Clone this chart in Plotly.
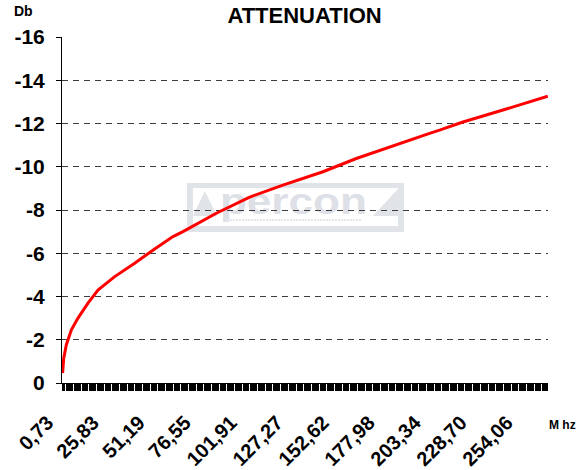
import base64
import plotly.graph_objects as go

# ---- data ----
freq_mhz = [0.73, 1.36, 2.8, 5.58, 9.22, 14.73, 20.24, 29.45, 40.47, 48.75, 51.5,
            61.6, 67.1, 85.5, 103.9, 122.2, 131.3, 144.3, 162.7, 181.1, 203.1,
            208.6, 221.5, 239.9, 258.3, 268.3]
attenuation_db = [-0.46, -1.15, -1.77, -2.46, -3.0, -3.69, -4.3, -4.92, -5.54, -6.05, -6.2,
                  -6.77, -7.0, -7.85, -8.6, -9.15, -9.4, -9.77, -10.38, -10.92, -11.54,
                  -11.69, -12.07, -12.53, -13.0, -13.26]

x_tick_vals = [0.73, 25.83, 51.19, 76.55, 101.91, 127.27, 152.62, 177.98, 203.34, 228.70, 254.06]
x_tick_text = ["0,73", "25,83", "51,19", "76,55", "101,91", "127,27", "152,62",
               "177,98", "203,34", "228,70", "254,06"]
y_tick_vals = [0, -2, -4, -6, -8, -10, -12, -14, -16]
y_tick_text = ["0", "-2", "-4", "-6", "-8", "-10", "-12", "-14", "-16"]

FONT = "Liberation Sans, Arial, sans-serif"

# watermark logo (drawn as inline SVG)
logo_svg = """<svg xmlns='http://www.w3.org/2000/svg' width='217' height='49' viewBox='0 0 217 49'>
<rect x='0' y='0' width='217' height='49' fill='#e0e3e8'/>
<rect x='6' y='5' width='205' height='38' fill='#ffffff'/>
<polygon points='6,33 18,8 30,33' fill='#e0e3e8'/>
<polygon points='186,33 211,6 211,33' fill='#e0e3e8'/>
<text x='33' y='31' font-family='Liberation Sans, Arial' font-weight='bold' font-size='36'
 fill='#dde0e6' textLength='147' lengthAdjust='spacingAndGlyphs'>percon</text>
<line x1='40' y1='37' x2='175' y2='37' stroke='#e3e6ea' stroke-width='2' stroke-dasharray='2,1'/>
</svg>"""
logo_uri = "data:image/svg+xml;base64," + base64.b64encode(logo_svg.encode()).decode()

fig = go.Figure()
fig.add_trace(go.Scatter(
    x=freq_mhz, y=attenuation_db, mode="lines",
    line=dict(color="#ff0000", width=3), hoverinfo="skip", showlegend=False,
))

fig.update_layout(
    width=588, height=470,
    margin=dict(l=62, r=40, t=37, b=87, autoexpand=False),
    paper_bgcolor="white", plot_bgcolor="white",
    font=dict(family=FONT, color="black"),
    title=dict(text="<b>ATTENUATION</b>", x=0.518, xanchor="center", y=0.968, yanchor="middle",
               font=dict(size=22, family=FONT, color="black", weight="bold")),
    images=[dict(source=logo_uri, xref="paper", yref="paper", x=0.257, y=0.578,
                 sizex=0.4465, sizey=0.1416, xanchor="left", yanchor="top",
                 sizing="stretch", layer="below")],
    annotations=[
        dict(text="<b>Db</b>", xref="paper", yref="paper", x=-0.103, y=1.075,
             xanchor="left", yanchor="middle", showarrow=False,
             font=dict(size=14, family=FONT, color="black", weight="bold")),
        dict(text="<b>M hz</b>", xref="paper", yref="paper", x=0.997, y=-0.12,
             xanchor="left", yanchor="middle", showarrow=False,
             font=dict(size=12, family=FONT, color="black", weight="bold")),
    ],
)

fig.update_xaxes(
    range=[0.40, 268.4], tickmode="array", tickvals=x_tick_vals, ticktext=x_tick_text,
    tickangle=-45, tickfont=dict(size=20, family=FONT, color="black", weight="bold"),
    ticklabelshift=-15, ticklabelstandoff=12,
    showline=True, linecolor="black", linewidth=1, mirror=False, automargin=False,
    ticks="outside", ticklen=7, tickcolor="black", tickwidth=1,
    minor=dict(ticks="outside", ticklen=7, tick0=0.73, dtick=0.634,
               tickcolor="black", tickwidth=1, showgrid=False),
    showgrid=False, zeroline=False, fixedrange=True,
)
fig.update_yaxes(
    range=[0, -16], tickmode="array", tickvals=y_tick_vals, ticktext=y_tick_text,
    tickfont=dict(size=21, family=FONT, color="black", weight="bold"), automargin=False,
    ticklabelstandoff=7,
    showline=True, linecolor="black", linewidth=1,
    ticks="outside", ticklen=5, tickcolor="black", tickwidth=1,
    showgrid=True, gridcolor="#3c3c3c", gridwidth=1, griddash="6px,5px",
    zeroline=False, fixedrange=True,
)

fig.write_html("out.html", config={"displayModeBar": False},
               post_script="document.body.style.margin='0';")
